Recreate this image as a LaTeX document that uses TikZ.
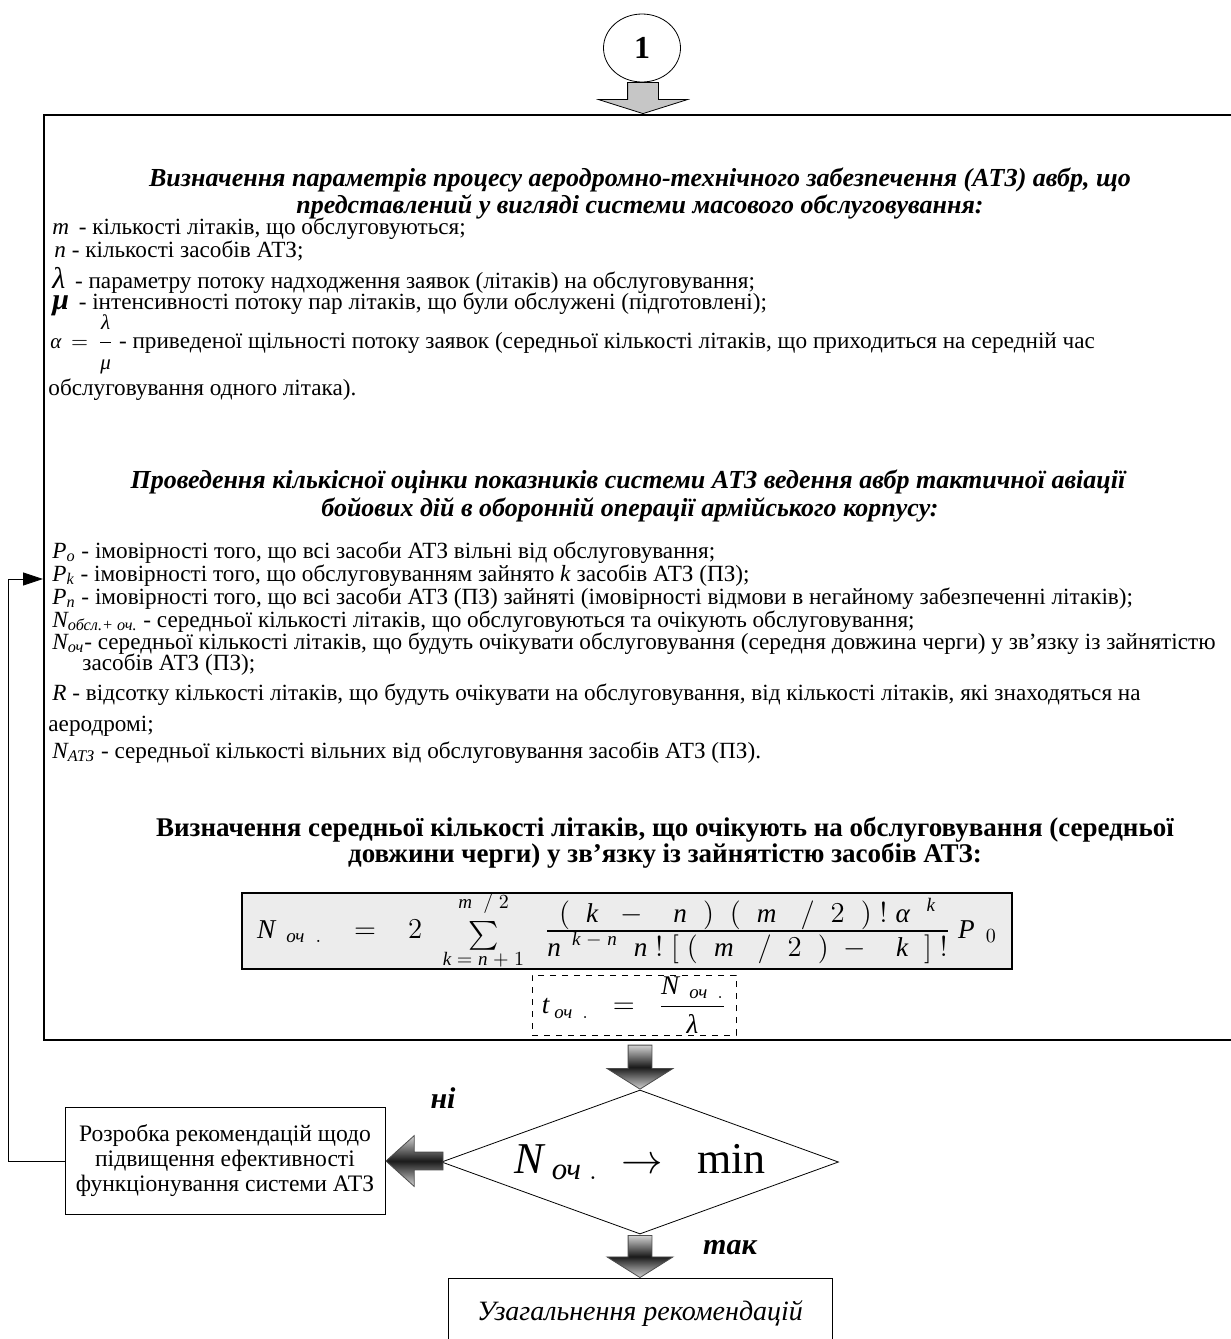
\documentclass[tikz,border=0pt]{standalone}
\usepackage{amsmath}
\usepackage{fontspec}
\setmainfont{Liberation Serif}
\usetikzlibrary{arrows.meta}
\usetikzlibrary{positioning}
\usetikzlibrary{shapes.geometric}
\usetikzlibrary{shapes.arrows}

\newcommand{\vi}[1]{\text{\itshape #1}}

\begin{document}
\begin{tikzpicture}[x=0.5pt,y=-0.5pt,
  item/.style={anchor=base west,inner sep=0pt,font=\fontsize{11.6}{12}\selectfont},
  headit/.style={anchor=base,inner sep=0pt,font=\fontsize{13}{14}\selectfont\bfseries\itshape},
  headbf/.style={anchor=base,inner sep=0pt,font=\fontsize{13.5}{14}\selectfont\bfseries},
  darr/.style={single arrow,draw=black!70,top color=gray!35,bottom color=gray!35,
    middle color=black!90,single arrow head indent=0pt,anchor=tip,inner xsep=0pt},
  larr/.style={single arrow,draw=black,fill=gray!45,single arrow head indent=0pt,
    anchor=tip,inner xsep=0pt},
  blk/.style={draw,inner sep=0pt,align=center}]
  \useasboundingbox (0,0) rectangle (1231,1339);

  \node[blk,line width=0.8pt,anchor=north west,minimum width=608.5pt,minimum height=462.5pt] (mainbox) at (43,114) {};
  \node[larr,rotate=-90,minimum height=15.5pt,inner ysep=7.5pt,
    single arrow head extend=14.5pt,single arrow tip angle=145] (a1) at (mainbox.north -| 643,0) {};
  \node[ellipse,draw,fill=white,minimum width=38.5pt,minimum height=34pt,inner sep=0pt,
    font=\fontsize{16}{16}\selectfont\bfseries] (start) at (642,48) {1};

  \node[headit] (hA1) at (640,186) {Визначення параметрів процесу аеродромно-технічного забезпечення (АТЗ) авбр, що};
  \node[headit] (hA2) at (640,213) {представлений у вигляді системи масового обслуговування:};
  \node[item] (lm) at (52,234) {\textit{m}\, - кількості літаків, що обслуговуються;};
  \node[item] (ln) at (54,257) {\textit{n} - кількості засобів АТЗ;};
  \node[item] (ll) at (52,288) {{\fontsize{15}{15}\selectfont\itshape λ}\, - параметру потоку надходження заявок (літаків) на обслуговування;};
  \node[item] (lmu) at (52,309) {{\fontsize{15}{15}\selectfont\bfseries\itshape μ}\, - інтенсивності потоку пар літаків, що були обслужені (підготовлені);};
  \node[item] (la) at (50,348) {{\fontsize{10.5}{10.5}\selectfont $\vi{α} \,=\, \dfrac{\vi{λ}\rule[-5pt]{0pt}{1pt}}{\rule{0pt}{12pt}\vi{μ}}$} - приведеної щільності потоку заявок (середньої кількості літаків, що приходиться на середній час};
  \node[item] (la2) at (48,395) {обслуговування одного літака).};

  \node[headit] (hB1) at (628,488) {Проведення кількісної оцінки показників системи АТЗ ведення авбр тактичної авіації};
  \node[headit] (hB2) at (630,516) {бойових дій в оборонній операції армійського корпусу:};
  \node[item] (lp0) at (52,558) {$\vi{P}_{\vi{o}}$ - імовірності того, що всі засоби АТЗ вільні від обслуговування;};
  \node[item] (lpk) at (52,581) {$\vi{P}_{\vi{k}}$ - імовірності того, що обслуговуванням зайнято \textit{k} засобів АТЗ (ПЗ);};
  \node[item] (lpn) at (52,604) {$\vi{P}_{\vi{n}}$ - імовірності того, що всі засоби АТЗ (ПЗ) зайняті (імовірності відмови в негайному забезпеченні літаків);};
  \node[item] (lno) at (52,627) {$\vi{N}_{\vi{обсл.+ оч.}}$ - середньої кількості літаків, що обслуговуються та очікують обслуговування;};
  \node[item] (lnq) at (52,649) {$\vi{N}_{\vi{оч}}$- середньої кількості літаків, що будуть очікувати обслуговування (середня довжина черги) у зв'язку із зайнятістю};
  \node[item] (lnq2) at (82,670) {засобів АТЗ (ПЗ);};
  \node[item] (lr) at (52,700) {\textit{R} - відсотку кількості літаків, що будуть очікувати на обслуговування, від кількості літаків, які знаходяться на};
  \node[item] (lr2) at (48,731) {аеродромі;};
  \node[item] (latz) at (52,758) {$\vi{N}_{\vi{АТЗ}}$ - середньої кількості вільних від обслуговування засобів АТЗ (ПЗ).};

  \node[headbf] (hC1) at (665,836) {Визначення середньої кількості літаків, що очікують на обслуговування (середньої};
  \node[headbf] (hC2) at (665,862) {довжини черги) у зв'язку із зайнятістю засобів АТЗ:};

  \node[draw,inner sep=0pt,line width=1pt,fill=gray!15,minimum width=385pt,minimum height=28pt,
    font=\fontsize{13.6}{13.6}\selectfont] (fbox) at (627,931)
    {$\vi{N}_{\;\;\vi{оч}\;\;.}\;\;\;=\;\;\;2\;\;\mathop{\def\arraystretch{0.4}\begin{array}{@{}c@{}}\scriptstyle\vi{m}\;\;/\;2\\[5pt] \textstyle\sum\\[3pt] \scriptstyle\vi{k}\;=\;\vi{n}\;+\;1\end{array}}\;\;\frac{\textstyle(\;\;\vi{k}\;\;-\;\;\;\vi{n}\;\;)\;\;(\;\;\vi{m}\;\;\;/\;\;2\;\;)\;!\;\vi{α}^{\;\;\;\vi{k}}}{\textstyle\vi{n}^{\;\;\vi{k}\;-\;\vi{n}}\;\;\vi{n}\;!\;[\;(\;\;\vi{m}\;\;\;/\;\;2\;\;)\;-\;\;\;\vi{k}\;\;]\;!}\;\vi{P}_{\;\;0}$};
  \node[blk,dashed,minimum width=102pt,minimum height=30pt,
    font=\fontsize{13.5}{13.5}\selectfont] (tbox) at (634,1005)
    {$\vi{t}_{\;\vi{оч}\;\;.}\;\;=\;\;\dfrac{\vi{N}_{\;\;\vi{оч}\;\;.}}{\vi{λ}}$};

  \node[diamond,draw,aspect=2.75,minimum width=198.5pt,minimum height=72pt,inner sep=0pt,
    font=\fontsize{22}{22}\selectfont] (dec) at (640,1162)
    {$\vi{N}_{\;\vi{оч}\;.}\;\rightarrow\;\;\text{min}$};
  \node[darr,rotate=-90,minimum height=22pt,inner ysep=5.75pt,
    single arrow head extend=10.5pt,single arrow tip angle=116] (a2) at (dec.north) {};

  \node[blk,minimum width=160pt,minimum height=53.5pt,font=\fontsize{11.8}{12.5}\selectfont]
    (recbox) at (225,1161) {Розробка рекомендацій щодо\\підвищення ефективності\\функціонування системи АТЗ};
  \node[darr,rotate=180,minimum height=28.5pt,inner ysep=4.25pt,
    single arrow head extend=8.25pt,single arrow tip angle=84] (a3) at (recbox.east) {};

  \node[blk,anchor=north,minimum width=192pt,minimum height=35pt,font=\fontsize{14}{14}\selectfont\itshape]
    (sumbox) at (640,1278) {Узагальнення рекомендацій};
  \node[darr,rotate=-90,minimum height=21pt,inner ysep=5.75pt,
    single arrow head extend=10.5pt,single arrow tip angle=116] (a4) at (sumbox.north) {};

  \node[font=\fontsize{15}{15}\selectfont\bfseries\itshape] (no) at (443,1098) {ні};
  \node[font=\fontsize{15}{15}\selectfont\bfseries\itshape] (yes) at (730,1248) {так};

  \coordinate (fb) at (43,579);
  \draw[-{Triangle[length=10pt,width=6.5pt]}] (recbox.west) -- ++(-56,0) |- (fb);
\end{tikzpicture}
\end{document}
